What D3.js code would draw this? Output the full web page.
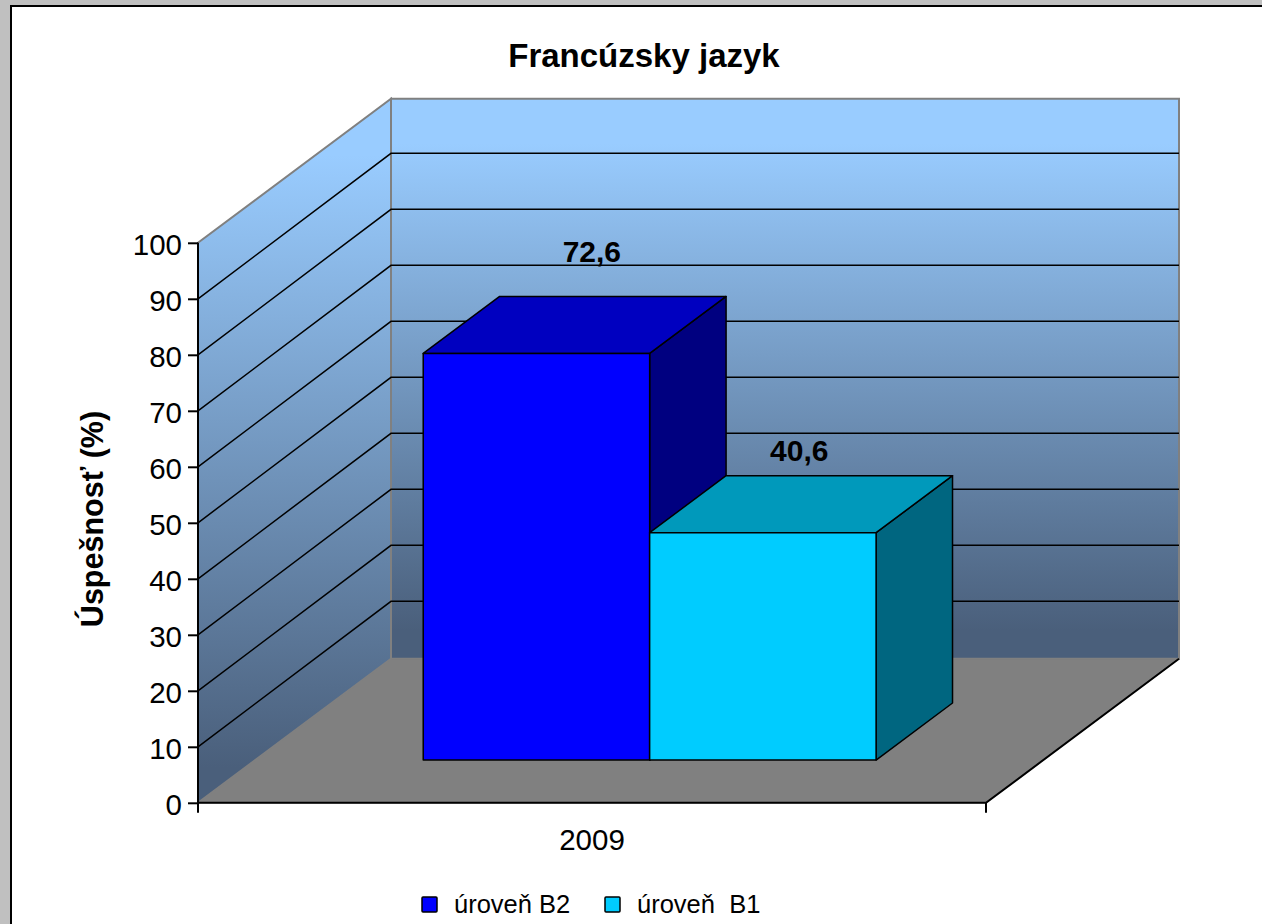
<!DOCTYPE html>
<html><head><meta charset="utf-8">
<script src="https://cdn.jsdelivr.net/npm/d3@7"></script>
<style>html,body{margin:0;padding:0;background:#c0c0c0;overflow:hidden}svg{display:block}text{font-family:"Liberation Sans",Arial,sans-serif;fill:#000}</style>
</head><body><svg id="c" width="1262" height="924"></svg>
<script>
const title = "Francúzsky jazyk";
const yTitle = "Úspešnosť (%)";
const category = "2009";
const seriesNames = ["úroveň B2", "úroveň  B1"];
const seriesValues = [72.6, 40.6];
const frontColors = ["#0000ff", "#00ccff"];
const topColors = ["#0000c0", "#0099bb"];
const sideColors = ["#000080", "#006680"];
const yTicks = [0,10,20,30,40,50,60,70,80,90,100];

const svg = d3.select("#c");
svg.append("rect").attr("x",11).attr("y",6).attr("width",1260).attr("height",930).attr("fill","#fff").attr("stroke","#000").attr("stroke-width",2);

const y = d3.scaleLinear().domain([0,100]).range([802.8,242.8]);
const x = d3.scaleBand().domain(seriesNames).range([198,986]).paddingInner(0).paddingOuter(0.74).align(0.501);
const depth = d3.scaleLinear().domain([0,1]).range([0,193]);
const rise = d3.scaleLinear().domain([0,1]).range([0,144]);
const P = (px,v,z) => [px+depth(z), y(v)-rise(z)];
const poly = pts => "M"+pts.map(p=>p.join(",")).join("L")+"Z";

const defs = svg.append("defs");
const g = defs.append("linearGradient").attr("id","wall").attr("x1",0).attr("y1",0).attr("x2",0).attr("y2",1);
g.append("stop").attr("offset",0).attr("stop-color","#99ccff");
g.append("stop").attr("offset",0.08).attr("stop-color","#99ccff");
g.append("stop").attr("offset",0.95).attr("stop-color","#4a5f7b");
g.append("stop").attr("offset",1).attr("stop-color","#4a5f7b");

const [xL,xR] = [198,986];
svg.append("path").attr("d",poly([P(xL,0,0),P(xR,0,0),P(xR,0,1),P(xL,0,1)])).attr("fill","#808080").attr("stroke","#6e6e6e").attr("stroke-width",1);
svg.append("path").attr("d",poly([P(xL,0,1),P(xR,0,1),P(xR,100,1),P(xL,100,1)])).attr("fill","url(#wall)").attr("stroke","#808080").attr("stroke-width",2);
svg.append("path").attr("d",poly([P(xL,0,0),P(xL,0,1),P(xL,100,1),P(xL,100,0)])).attr("fill","url(#wall)").attr("stroke","#808080").attr("stroke-width",2);
const grid = yTicks.filter(t=>t>0&&t<100);
const gridZ = 145.5/144;
svg.append("g").selectAll("path").data(grid).join("path")
  .attr("d",t=>{const [bx,by]=P(xL,t,gridZ);const back=P(xL,t,1)[0];return d3.line()([P(xL,t,0),[back,by],[P(xR,t,1)[0],by]]);})
  .attr("fill","none").attr("stroke","#000").attr("stroke-width",1.5);
const yAxis = d3.axisLeft(y).tickValues(yTicks).tickSize(10).tickPadding(6).tickFormat(d3.format("d"));
const ay = svg.append("g").attr("transform",`translate(${xL},0)`).call(yAxis);
ay.selectAll("path").attr("stroke","#000").attr("stroke-width",2).attr("d",`M0,${y(100)}V${y(0)}`);
ay.selectAll("line").attr("stroke","#000").attr("stroke-width",2);
ay.selectAll("text").attr("font-size",29.5).attr("font-family",null).attr("dy","0.38em");
svg.append("path").attr("d",d3.line()([P(xL,0,0),P(xR,0,0),P(xR,0,1)])).attr("fill","none").attr("stroke","#000").attr("stroke-width",2);
svg.append("g").selectAll("line").data([xL,xR]).join("line").attr("x1",d=>d).attr("x2",d=>d).attr("y1",y(0)).attr("y2",y(0)+10).attr("stroke","#000").attr("stroke-width",2);
svg.append("text").attr("x",(xL+xR)/2).attr("y",850).attr("text-anchor","middle").attr("font-size",29.5).text(category);

const z0=0.297, z1=0.693;
const bars = svg.append("g").attr("stroke","#000").attr("stroke-width",1.5).attr("stroke-linejoin","round");
const labelNudge = [[-21,-34],[-40,-15]];
seriesNames.forEach((name,i)=>{
  const a=x(name), b=a+x.bandwidth(), v=seriesValues[i];
  bars.append("path").attr("d",poly([P(b,0,z0),P(b,0,z1),P(b,v,z1),P(b,v,z0)])).attr("fill",sideColors[i]);
  bars.append("path").attr("d",poly([P(a,v,z0),P(b,v,z0),P(b,v,z1),P(a,v,z1)])).attr("fill",topColors[i]);
  bars.append("path").attr("d",poly([P(a,0,z0),P(b,0,z0),P(b,v,z0),P(a,v,z0)])).attr("fill",frontColors[i]);
  const [lx,ly]=P((a+b)/2,v,z1);
  svg.append("text").attr("x",lx+labelNudge[i][0]).attr("y",ly+labelNudge[i][1]).attr("text-anchor","middle").attr("font-size",30).attr("font-weight","bold").text(d3.format(".1f")(v).replace(".",","));
});

svg.append("text").attr("x",644).attr("y",67).attr("text-anchor","middle").attr("font-size",33).attr("font-weight","bold").text(title);
svg.append("text").attr("transform","translate(103,519) rotate(-90)").attr("text-anchor","middle").attr("font-size",30.5).attr("font-weight","bold").text(yTitle);

const legX = d3.scalePoint().domain(seriesNames).range([422,605]);
const leg = svg.append("g").selectAll("g").data(seriesNames).join("g").attr("transform",d=>`translate(${legX(d)},897)`);
leg.append("rect").attr("width",15).attr("height",15).attr("rx",1).attr("fill",(d,i)=>frontColors[i]).attr("stroke","#000").attr("stroke-width",1.5);
leg.append("text").attr("x",32).attr("y",16).attr("font-size",25.5).style("white-space","pre").text(d=>d);
</script></body></html>
